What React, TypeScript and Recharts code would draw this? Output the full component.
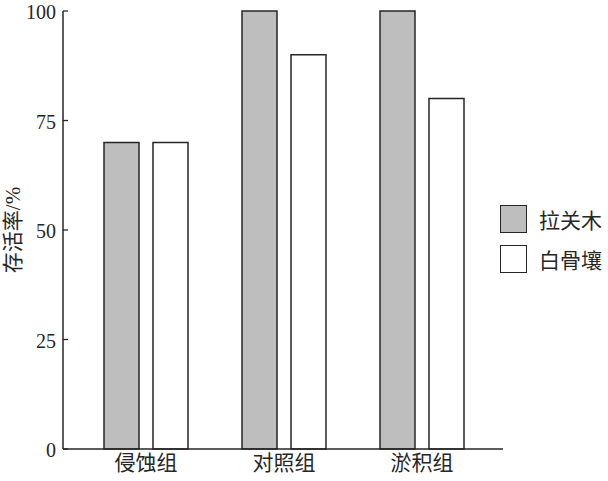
import { BarChart, Bar, XAxis, YAxis } from "recharts";

const groups = ["侵蚀组", "对照组", "淤积组"];
const lagunculariaValues = [70, 100, 100];
const avicenniaValues = [70, 90, 80];
const yTicks = [0, 25, 50, 75, 100];
const seriesNames = ["拉关木", "白骨壤"];
const yLabel = "存活率/%";

const FONT = "'Liberation Serif', 'Noto Sans CJK SC', serif";
const INK = "#262626";
const GRAY = "#bebebe";

const data = groups.map((g, i) => ({
  group: g,
  lag: lagunculariaValues[i],
  avi: avicenniaValues[i],
}));

function YTick(props: any) {
  const { x, y, payload } = props;
  return (
    <g>
      <line x1={x} y1={y} x2={x + 5} y2={y} stroke={INK} strokeWidth={1.3} />
      <text x={x - 7} y={y} dy={8} textAnchor="end" fill={INK} fontSize={20} fontFamily={FONT}>
        {payload.value}
      </text>
    </g>
  );
}

function XTick(props: any) {
  const { x, y, payload } = props;
  return (
    <text x={x} y={y} dy={19} textAnchor="middle" fill={INK} fontSize={21} fontFamily={FONT}>
      {payload.value}
    </text>
  );
}

function LegendBox() {
  const fills = [GRAY, "#ffffff"];
  return (
    <div style={{ position: "absolute", left: 500, top: 199 }}>
      {seriesNames.map((name, i) => (
        <div key={name} style={{ display: "flex", alignItems: "center", height: 40 }}>
          <div
            style={{
              width: 25,
              height: 26,
              background: fills[i],
              border: `1.5px solid ${INK}`,
              marginRight: 12,
            }}
          />
          <span style={{ fontFamily: FONT, fontSize: 21, color: INK }}>{name}</span>
        </div>
      ))}
    </div>
  );
}

export default function App() {
  return (
    <div style={{ position: "absolute", left: 0, top: 0, width: 608, height: 481, background: "#fff" }}>
      <BarChart
        width={608}
        height={481}
        data={data}
        margin={{ top: 11, right: 105, left: 0, bottom: 0 }}
        barGap={14}
        barSize={35}
      >
        <XAxis
          dataKey="group"
          height={32}
          padding={{ left: 14, right: 12 }}
          tickLine={false}
          tickSize={0}
          tick={<XTick />}
          axisLine={{ stroke: INK, strokeWidth: 1.5 }}
        />
        <YAxis
          width={63}
          domain={[0, 100]}
          ticks={yTicks}
          tickLine={false}
          tickSize={0}
          tickMargin={0}
          tick={<YTick />}
          axisLine={{ stroke: INK, strokeWidth: 1.5 }}
          label={{
            value: yLabel,
            angle: -90,
            position: "insideLeft",
            offset: 13,
            style: { fontFamily: FONT, fontSize: 21, fill: INK, textAnchor: "middle" },
          }}
        />
        <Bar dataKey="lag" name={seriesNames[0]} fill={GRAY} stroke={INK} strokeWidth={1.5} isAnimationActive={false} />
        <Bar dataKey="avi" name={seriesNames[1]} fill="#ffffff" stroke={INK} strokeWidth={1.5} isAnimationActive={false} />
      </BarChart>
      <LegendBox />
    </div>
  );
}
